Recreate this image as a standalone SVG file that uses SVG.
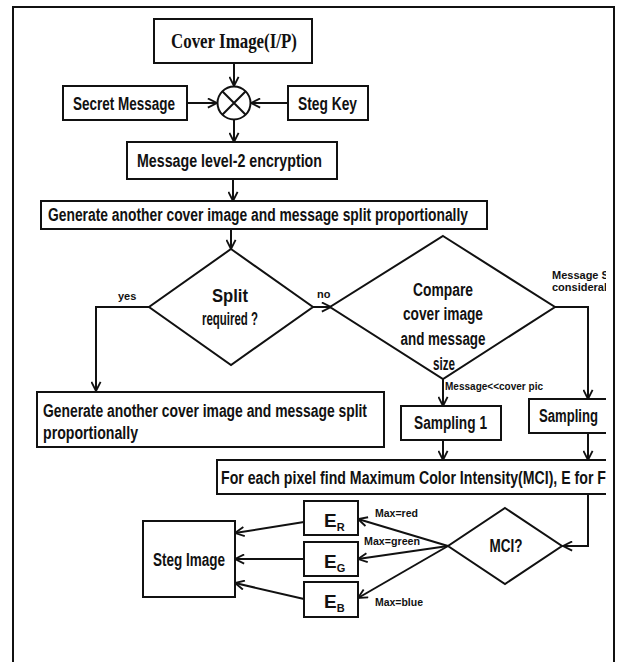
<svg xmlns="http://www.w3.org/2000/svg" width="625" height="662" viewBox="0 0 625 662">
<style>
.b{fill:#fff;stroke:#111;stroke-width:2}
.c{fill:none;stroke:#111;stroke-width:2}
.t{font-family:"Liberation Sans Narrow","Liberation Sans",Arial,sans-serif;font-weight:bold;fill:#111;font-size:18px}
.s{font-family:"Liberation Sans Narrow","Liberation Sans",Arial,sans-serif;font-weight:bold;fill:#111;font-size:11px}
.m{text-anchor:middle}
</style>
<defs>
<marker id="a" viewBox="0 0 12 12" refX="11" refY="6" markerWidth="11" markerHeight="11" orient="auto" markerUnits="userSpaceOnUse">
<path d="M1,1 L11,6 L1,11" fill="none" stroke="#111" stroke-width="2"/>
</marker>
<clipPath id="clip"><rect x="0" y="0" width="606" height="662"/></clipPath>
</defs>
<rect width="625" height="662" fill="#fff"/>
<rect x="13" y="7" width="601" height="700" fill="none" stroke="#111" stroke-width="2"/>
<g clip-path="url(#clip)">
<g id="connectors" class="c">
<line x1="234" y1="63" x2="234" y2="86" marker-end="url(#a)"/>
<line x1="187" y1="103" x2="217" y2="103" marker-end="url(#a)"/>
<line x1="288" y1="103" x2="251" y2="103" marker-end="url(#a)"/>
<line x1="234" y1="120" x2="234" y2="142" marker-end="url(#a)"/>
<line x1="233" y1="179" x2="233" y2="201" marker-end="url(#a)"/>
<line x1="231" y1="229" x2="231" y2="249" marker-end="url(#a)"/>
<polyline points="149,307 96,307 96,391" marker-end="url(#a)"/>
<line x1="313" y1="307" x2="331" y2="307" marker-end="url(#a)"/>
<polyline points="555,307 588,307 588,399" marker-end="url(#a)"/>
<line x1="443" y1="379" x2="443" y2="406" marker-end="url(#a)"/>
<line x1="443" y1="440" x2="443" y2="460" marker-end="url(#a)"/>
<line x1="588" y1="433" x2="588" y2="460" marker-end="url(#a)"/>
<polyline points="588,494 588,546 563,546" marker-end="url(#a)"/>
<line x1="448" y1="546" x2="358" y2="519" marker-end="url(#a)"/>
<line x1="448" y1="546" x2="358" y2="559" marker-end="url(#a)"/>
<line x1="448" y1="546" x2="358" y2="598" marker-end="url(#a)"/>
<line x1="304" y1="522" x2="235" y2="533" marker-end="url(#a)"/>
<line x1="304" y1="559" x2="235" y2="559" marker-end="url(#a)"/>
<line x1="304" y1="599" x2="235" y2="583" marker-end="url(#a)"/>
</g>
<g id="labels">
<text class="s" x="118" y="300">yes</text>
<text class="s" x="317" y="298">no</text>
<text class="s" x="552" y="279">Message S</text>
<text class="s" x="552" y="291">considerab</text>
<text class="s" x="445" y="390" textLength="98" lengthAdjust="spacingAndGlyphs">Message&lt;&lt;cover pic</text>
<text class="s" x="375" y="517" textLength="43" lengthAdjust="spacingAndGlyphs">Max=red</text>
<text class="s" x="364" y="545" textLength="56" lengthAdjust="spacingAndGlyphs">Max=green</text>
<text class="s" x="375" y="606" textLength="48" lengthAdjust="spacingAndGlyphs">Max=blue</text>
</g>
<g id="cover">
<rect class="b" x="154" y="19" width="158" height="44"/>
<text x="171" y="48" textLength="126" lengthAdjust="spacingAndGlyphs" style="font-family:'Liberation Serif','Times New Roman',serif;font-weight:bold;font-size:21px;fill:#111">Cover Image(I/P)</text>
</g>
<g id="xor">
<circle class="b" cx="234" cy="103" r="16.5"/>
<path class="c" d="M222.3,91.3 L245.7,114.7 M245.7,91.3 L222.3,114.7"/>
</g>
<g id="secret">
<rect class="b" x="63" y="86" width="124" height="34"/>
<text class="t" x="73" y="110" textLength="102" lengthAdjust="spacingAndGlyphs">Secret Message</text>
</g>
<g id="stegkey">
<rect class="b" x="288" y="86" width="80" height="34"/>
<text class="t" x="298" y="110" textLength="59" lengthAdjust="spacingAndGlyphs">Steg Key</text>
</g>
<g id="enc">
<rect class="b" x="127" y="142" width="210" height="37"/>
<text class="t" x="137" y="167" textLength="185" lengthAdjust="spacingAndGlyphs">Message level-2 encryption</text>
</g>
<g id="gen1">
<rect class="b" x="41" y="201" width="446" height="28"/>
<text class="t" x="48" y="221" textLength="420" lengthAdjust="spacingAndGlyphs">Generate another cover image and message split proportionally</text>
</g>
<g id="split">
<polygon class="b" points="231,249 313,307 231,365 149,307"/>
<text class="t m" x="230" y="302" textLength="36" lengthAdjust="spacingAndGlyphs">Split</text>
<text class="t m" x="230" y="325" textLength="56" lengthAdjust="spacingAndGlyphs">required ?</text>
</g>
<g id="compare">
<polygon class="b" points="443,236 555,307 443,379 330,307"/>
<text class="t m" x="443" y="296" textLength="60" lengthAdjust="spacingAndGlyphs">Compare</text>
<text class="t m" x="443" y="320" textLength="80" lengthAdjust="spacingAndGlyphs">cover image</text>
<text class="t m" x="443" y="345" textLength="85" lengthAdjust="spacingAndGlyphs">and message</text>
<text class="t m" x="444" y="370" textLength="22" lengthAdjust="spacingAndGlyphs">size</text>
</g>
<g id="gen2">
<rect class="b" x="37" y="392" width="347" height="55"/>
<text class="t" x="43" y="417" textLength="324" lengthAdjust="spacingAndGlyphs">Generate another cover image and message split</text>
<text class="t" x="43" y="439" textLength="95" lengthAdjust="spacingAndGlyphs">proportionally</text>
</g>
<g id="sampling1">
<rect class="b" x="401" y="406" width="100" height="34"/>
<text class="t" x="414" y="429" textLength="73" lengthAdjust="spacingAndGlyphs">Sampling 1</text>
</g>
<g id="sampling2">
<rect class="b" x="529" y="399" width="100" height="34"/>
<text class="t" x="539" y="422" textLength="59" lengthAdjust="spacingAndGlyphs">Sampling</text>
</g>
<g id="mcibox">
<rect class="b" x="217" y="460" width="420" height="34"/>
<text class="t" x="221" y="484" textLength="385" lengthAdjust="spacingAndGlyphs">For each pixel find Maximum Color Intensity(MCI), E for F</text>
</g>
<g id="mci">
<polygon class="b" points="505,508 562,546 505,584 448,546"/>
<text class="t m" x="506" y="552" textLength="33" lengthAdjust="spacingAndGlyphs">MCI?</text>
</g>
<g id="er">
<rect class="b" x="304" y="501" width="54" height="34"/>
<text class="t" x="324" y="527" style="font-size:19px">E<tspan dy="4" style="font-size:11px">R</tspan></text>
</g>
<g id="eg">
<rect class="b" x="304" y="542" width="54" height="34"/>
<text class="t" x="324" y="568" style="font-size:19px">E<tspan dy="4" style="font-size:11px">G</tspan></text>
</g>
<g id="eb">
<rect class="b" x="304" y="582" width="54" height="35"/>
<text class="t" x="324" y="608" style="font-size:19px">E<tspan dy="4" style="font-size:11px">B</tspan></text>
</g>
<g id="steg">
<rect class="b" x="143" y="521" width="92" height="76"/>
<text class="t" x="153" y="566" textLength="72" lengthAdjust="spacingAndGlyphs">Steg Image</text>
</g>
</g>
</svg>
